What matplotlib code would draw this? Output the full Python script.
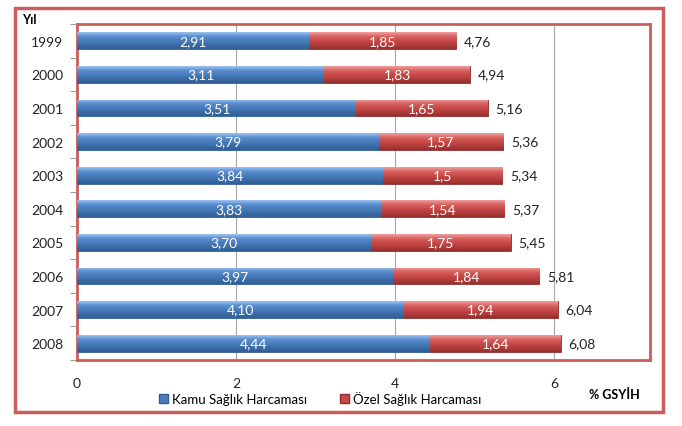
import matplotlib.pyplot as plt
import matplotlib.patches as mpatches
import matplotlib.colors as mcolors
import numpy as np

plt.rcParams['font.family'] = ['Lato', 'DejaVu Sans']

years = ["1999", "2000", "2001", "2002", "2003", "2004", "2005", "2006", "2007", "2008"]
kamu = [2.91, 3.11, 3.51, 3.79, 3.84, 3.83, 3.70, 3.97, 4.10, 4.44]
ozel = [1.85, 1.83, 1.65, 1.57, 1.5, 1.54, 1.75, 1.84, 1.94, 1.64]
toplam = [4.76, 4.94, 5.16, 5.36, 5.34, 5.37, 5.45, 5.81, 6.04, 6.08]
kamu_labels = ["2,91", "3,11", "3,51", "3,79", "3,84", "3,83", "3,70", "3,97", "4,10", "4,44"]
ozel_labels = ["1,85", "1,83", "1,65", "1,57", "1,5", "1,54", "1,75", "1,84", "1,94", "1,64"]
toplam_labels = ["4,76", "4,94", "5,16", "5,36", "5,34", "5,37", "5,45", "5,81", "6,04", "6,08"]

blue = "#4A7EBB"
red = "#C84A48"
frame_red = "#CD5C5C"

# vertical gradient colours (top -> bottom), Excel 2007 style
blue_grad = mcolors.LinearSegmentedColormap.from_list(
    "b", ["#9DC3EE", "#5A8ED0", "#4A7EBB", "#3C6CA8", "#2F5F94"])
red_grad = mcolors.LinearSegmentedColormap.from_list(
    "r", ["#F0A09E", "#D86462", "#C84A48", "#B33E3C", "#962F2D"])

fig = plt.figure(figsize=(6.82, 4.27), dpi=100)
ax = fig.add_axes([0.1129, 0.1546, 0.840, 0.787])

y = np.arange(len(years))
h = 0.5
b1 = ax.barh(y, kamu, height=h, color=blue, edgecolor="#2F5F94", linewidth=0.6, zorder=3)
b2 = ax.barh(y, ozel, left=kamu, height=h, color=red, edgecolor="#8E2E2C", linewidth=0.6, zorder=3)

grad = np.linspace(0, 1, 64).reshape(-1, 1)
for bars, cmap in ((b1, blue_grad), (b2, red_grad)):
    for r in bars:
        x0, y0 = r.get_x(), r.get_y()
        w, hh = r.get_width(), r.get_height()
        im = ax.imshow(grad, cmap=cmap, aspect="auto", extent=[x0, x0 + w, y0 + hh, y0],
                       interpolation="bicubic", zorder=3.5)
        im.set_clip_path(r)

for i in range(len(years)):
    ax.text(kamu[i] / 2, y[i], kamu_labels[i], ha="center", va="center",
            color="white", fontsize=10, zorder=5)
    ax.text(kamu[i] + ozel[i] / 2, y[i], ozel_labels[i], ha="center", va="center",
            color="white", fontsize=10, zorder=5)
    ax.text(toplam[i] + 0.1, y[i], toplam_labels[i], ha="left", va="center",
            color="#222222", fontsize=10, zorder=5)

ax.set_xlim(0, 7.2)
ax.set_ylim(len(years) - 0.5, -0.5)
ax.set_xticks([0, 2, 4, 6])
ax.set_xticklabels(["0", "2", "4", "6"])
ax.set_yticks(y)
ax.set_yticklabels(years)
ax.set_yticks(np.arange(len(years) + 1) - 0.5, minor=True)
ax.tick_params(axis="y", which="major", length=0, pad=10, labelsize=10, labelcolor="#222222")
ax.tick_params(axis="y", which="minor", length=5, color="#888888", direction="out")
ax.tick_params(axis="x", length=0, pad=12, labelsize=10, labelcolor="#222222")
ax.grid(axis="x", color="#A6A6A6", linewidth=0.8, zorder=0)
for s in ax.spines.values():
    s.set_color(frame_red)
    s.set_linewidth(2)

fig.text(22 / 682, 1 - 20 / 427, "Yıl", fontsize=9, fontweight="bold", va="center", ha="left")
fig.text(640 / 682, 1 - 395 / 427, "% GSYİH", fontsize=9, fontweight="bold", va="center", ha="right")

handles = [mpatches.Patch(facecolor=blue, edgecolor="#2F5F94", label="Kamu Sağlık Harcaması"),
           mpatches.Patch(facecolor=red, edgecolor="#8E2E2C", label="Özel Sağlık Harcaması")]
fig.legend(handles=handles, loc="center", bbox_to_anchor=(320 / 682, 1 - 399 / 427), ncol=2,
           frameon=False, fontsize=9.5, handlelength=0.7, handleheight=0.7, columnspacing=2.5,
           handletextpad=0.3)

fig.patches.append(mpatches.Rectangle((15 / 682, 1 - 413 / 427), 648 / 682, 404 / 427,
                                      transform=fig.transFigure, fill=False,
                                      edgecolor=frame_red, linewidth=2.5))

fig.savefig("out.png", dpi=100)
